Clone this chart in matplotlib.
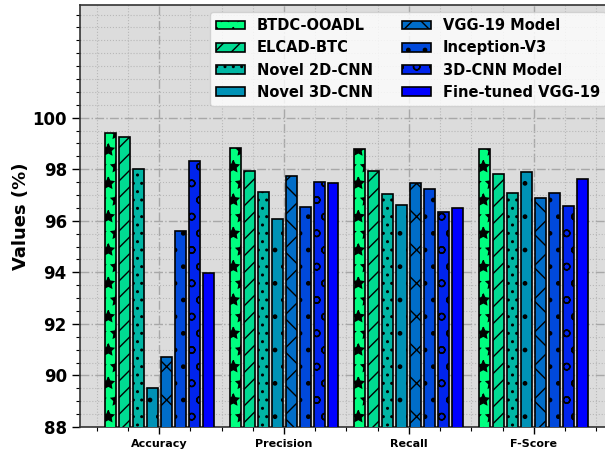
import numpy as np
import matplotlib.pyplot as plt
from matplotlib import cm
from matplotlib.ticker import MultipleLocator

plt.rcParams['font.family'] = ['DejaVu Sans']
plt.rcParams['hatch.linewidth'] = 1.0

metrics = ['Accuracy', 'Precision', 'Recall', 'F-Score']
models = ['BTDC-OOADL', 'ELCAD-BTC', 'Novel 2D-CNN', 'Novel 3D-CNN',
          'VGG-19 Model', 'Inception-V3', '3D-CNN Model', 'Fine-tuned VGG-19']

btdc_ooadl = [99.40, 98.83, 98.78, 98.78]
elcad_btc = [99.25, 97.94, 97.94, 97.83]
novel_2dcnn = [98.02, 97.12, 97.03, 97.09]
novel_3dcnn = [89.51, 96.06, 96.63, 97.90]
vgg19 = [90.70, 97.74, 97.48, 96.90]
inception_v3 = [95.60, 96.55, 97.25, 97.09]
cnn3d = [98.31, 97.52, 96.33, 96.59]
ft_vgg19 = [93.98, 97.48, 96.49, 97.63]

series = [btdc_ooadl, elcad_btc, novel_2dcnn, novel_3dcnn,
          vgg19, inception_v3, cnn3d, ft_vgg19]
hatches = ['*', '//', '..', '.', 'x', '.', 'o', '']
colors = cm.winter_r(np.linspace(0, 1, len(models)))

fig = plt.figure(figsize=(6.05, 4.51), dpi=100)
ax = fig.add_axes([0.1322, 0.0532, 0.881, 0.9357])
ax.set_facecolor('#dcdcdc')

x = np.arange(len(metrics))
step = 0.112
width = 0.088
for i, (vals, h, c) in enumerate(zip(series, hatches, colors)):
    ax.bar(x + (i - 3.5) * step, vals, width, color=c, edgecolor='black',
           linewidth=1.2, hatch=h, label=models[i], zorder=3)

ax.set_xlim(-0.635, 3.635)
ax.set_ylim(88, max(btdc_ooadl) * 1.05)
ax.set_yticks(np.arange(88, 101, 2))
ax.yaxis.set_minor_locator(MultipleLocator(0.5))
ax.xaxis.set_minor_locator(MultipleLocator(0.25))
ax.set_xticks(x)
ax.set_xticklabels(metrics, fontsize=8, fontweight='bold')
for lab in ax.get_yticklabels():
    lab.set_fontsize(12)
    lab.set_fontweight('bold')
ax.set_ylabel('Values (%)', fontsize=13, fontweight='bold', labelpad=2)

ax.tick_params(axis='y', which='major', length=6, width=1)
ax.tick_params(axis='y', which='minor', length=3, width=0.8)
ax.tick_params(axis='x', which='major', length=5, width=1)
ax.tick_params(axis='x', which='minor', length=3, width=0.8)

ax.grid(which='major', linestyle='-.', color='#a8a8a8', linewidth=1.0, zorder=0)
ax.grid(which='minor', linestyle=':', color='#b8b8b8', linewidth=0.8, zorder=0)
ax.set_axisbelow(True)
for s in ax.spines.values():
    s.set_linewidth(1.2)
    s.set_color('#333333')

ax.legend(ncol=2, loc='upper right', handleheight=0.55,
          prop={'size': 10.5, 'weight': 'bold'})

fig.savefig('out.png', dpi=100)
